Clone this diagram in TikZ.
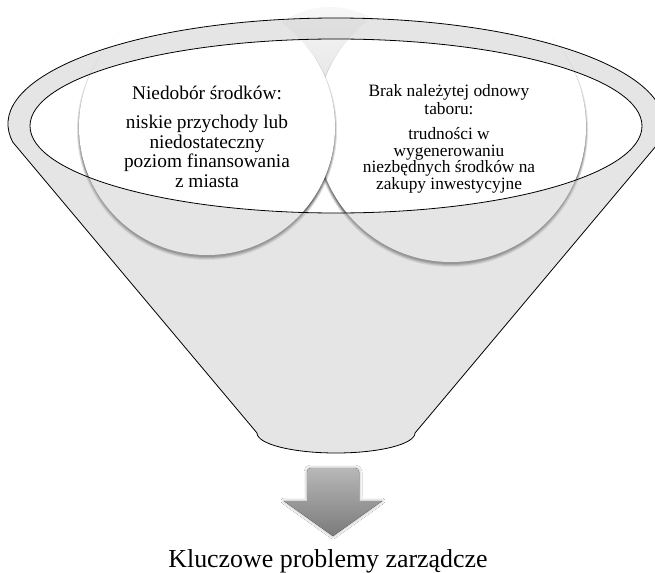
\documentclass[tikz,border=0pt]{standalone}
\usepackage{fontspec}
\setmainfont{Liberation Serif}
\usetikzlibrary{shadows.blur}
% sphere-like fill: white upper core, grey rim getting darker towards the bottom
\pgfdeclareradialshading{orb}{\pgfpoint{0bp}{18bp}}{%
  color(0bp)=(white); color(34bp)=(white); color(47bp)=(black!9);
  color(54bp)=(black!18); color(62bp)=(black!25); color(70bp)=(black!32)}

\begin{document}
\begin{tikzpicture}[x=1bp,y=-1bp,
  orbnode/.style={circle, inner sep=0pt, shade, shading=orb},
  orbshadow/.style={fill=black, fill opacity=#1},
  edge/.style={draw=black, line width=0.8bp},
  lefttxt/.style={anchor=base, inner sep=0pt, font=\fontsize{19.4}{20}\selectfont},
  righttxt/.style={anchor=base, inner sep=0pt, font=\fontsize{17.4}{18}\selectfont},
  bottomtxt/.style={anchor=base, inner sep=0pt, font=\fontsize{26}{30}\selectfont},
]
\useasboundingbox (0,0) rectangle (655,573);
\clip (0,0) rectangle (655,573);
\fill[white] (0,0) rectangle (655,573);

% circle sitting behind the two labelled ones
\node[circle, inner sep=0pt, minimum size=166bp, top color=black!3, bottom color=black!18] (back) at (330,90) {};

% right circle: soft shadow, then the body
\foreach \dr/\op in {2/0.12, 1/0.18, 0/0.24, -1/0.3}
  \fill[orbshadow=\op] (451,130) circle[radius=135+\dr];
\node[orbnode, minimum size=270bp] (right) at (451,127) {};

% left circle, in front
\foreach \dr/\op in {2/0.12, 1/0.18, 0/0.24, -1/0.3}
  \fill[orbshadow=\op] (207,130) circle[radius=128+\dr];
\node[orbnode, minimum size=256bp] (left) at (207,127) {};

% translucent funnel wall with the opening left clear
\fill[black!20, fill opacity=0.5, even odd rule]
  (336,124) ++(170:328 and 106)
  arc[start angle=170, end angle=370, x radius=328, y radius=106]
  -- (415,433) arc[start angle=0, end angle=180, x radius=79, y radius=20] -- cycle
  (336,126) ellipse [x radius=306, y radius=87];

% funnel outline and rim of the opening
\draw[edge]
  (336,124) ++(170:328 and 106)
  arc[start angle=170, end angle=370, x radius=328, y radius=106]
  -- (415,433) arc[start angle=0, end angle=180, x radius=79, y radius=20] -- cycle;
\draw[edge] (336,126) ellipse [x radius=306, y radius=87];

% texts in the circles
\node[lefttxt] (l1) at (207,100) {Niedobór środków:};
\node[lefttxt] (l2) at (207,129) {niskie przychody lub};
\node[lefttxt] (l3) at (207,148.5) {niedostateczny};
\node[lefttxt] (l4) at (207,168) {poziom finansowania};
\node[lefttxt] (l5) at (207,187.5) {z miasta};

\node[righttxt] (r1) at (449,97) {Brak należytej odnowy};
\node[righttxt] (r2) at (449,115) {taboru:};
\node[righttxt] (r3) at (449,140) {trudności w};
\node[righttxt] (r4) at (449,156.5) {wygenerowaniu};
\node[righttxt] (r5) at (449,173) {niezbędnych środków na};
\node[righttxt] (r6) at (449,189.5) {zakupy inwestycyjne};

% downward arrow
\fill[top color=black!28, bottom color=black!52,
  blur shadow={shadow xshift=0bp, shadow yshift=0bp, shadow blur radius=3bp,
    shadow blur steps=8, shadow opacity=40}]
  (307,501) -- (307,472) arc[start angle=180, end angle=270, radius=4]
  -- (355,468) arc[start angle=270, end angle=360, radius=4]
  -- (359,501) -- (382,501) -- (333,536) -- (284,501) -- cycle;

\node[bottomtxt] (result) at (328,567) {Kluczowe problemy zarządcze};
\end{tikzpicture}
\end{document}
